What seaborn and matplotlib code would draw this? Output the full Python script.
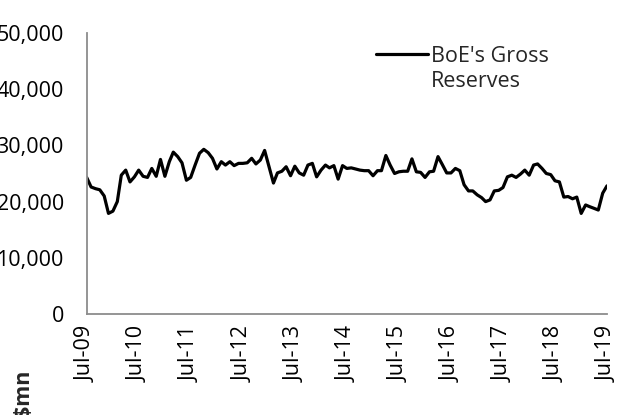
import numpy as np
import pandas as pd
import matplotlib
matplotlib.use("Agg")
import matplotlib.pyplot as plt
import matplotlib.dates as mdates
from matplotlib.lines import Line2D
from matplotlib.ticker import FuncFormatter
import seaborn as sns

# 月度数据: Jul-09 .. Jul-19 (US$ mn)
start_month = "2009-07-01"
reserves = [
    24300, 22600, 22300, 22100, 21000, 17900, 18300, 20000, 24700, 25600,
    23500, 24400, 25600, 24500, 24300, 25900, 24500, 27500, 24500, 27100,
    28800, 28000, 26900, 23800, 24300, 26500, 28600, 29300, 28700, 27700,
    25800, 27100, 26500, 27100, 26400, 26800, 26800, 26900, 27700, 26700,
    27400, 29100, 26200, 23300, 25100, 25400, 26200, 24600, 26300, 25100,
    24700, 26500, 26800, 24400, 25600, 26500, 26000, 26400, 24000, 26400,
    25900, 26000, 25800, 25600, 25500, 25500, 24600, 25500, 25500, 28200,
    26500, 25000, 25300, 25400, 25400, 27600, 25300, 25200, 24300, 25300,
    25400, 28000, 26600, 25100, 25100, 25900, 25500, 23000, 21900, 21900,
    21200, 20700, 20000, 20300, 21900, 22000, 22500, 24400, 24700, 24300,
    24900, 25600, 24700, 26500, 26700, 25900, 25000, 24800, 23700, 23500,
    20800, 20900, 20500, 20800, 17900, 19400, 19100, 18800, 18500, 21500,
    22800,
]
legend_lines = ["BoE's Gross", "Reserves"]
y_ticks = [0, 10000, 20000, 30000, 40000, 50000]

dates = pd.date_range(start_month, periods=len(reserves), freq="MS")
df = pd.DataFrame({"date": dates, "value": reserves})

sns.set_style("white")
plt.rcParams["font.family"] = ["Open Sans", "DejaVu Sans"]
FS = 15.5

fig = plt.figure(figsize=(6.2, 4.15), dpi=100)
ax = fig.add_axes([0.1398, 0.2434, 0.979 - 0.1398, 0.6771])

sns.lineplot(data=df, x="date", y="value", color="black", linewidth=2.3, ax=ax)

ax.set_xlim(dates[0], dates[-1])
ax.set_ylim(0, 50000)
ax.set_yticks(y_ticks)
ax.yaxis.set_major_formatter(FuncFormatter(lambda v, p: f"{int(v):,}"))
ax.xaxis.set_major_locator(mdates.MonthLocator(bymonth=7))
ax.xaxis.set_major_formatter(mdates.DateFormatter("%b-%y"))
plt.setp(ax.get_xticklabels(), rotation=90)

ax.set_xlabel("")
ax.set_ylabel("")
for s in ["top", "right"]:
    ax.spines[s].set_visible(False)
for s in ["left", "bottom"]:
    ax.spines[s].set_color("#8c8c8c")
    ax.spines[s].set_linewidth(1.3)
ax.tick_params(axis="both", direction="out", length=5.5, width=1.3, color="#8c8c8c",
               labelsize=FS, labelcolor="black")
ax.tick_params(axis="y", pad=11)
ax.tick_params(axis="x", pad=3)

# 图例：线段对齐第一行文字
handles = [Line2D([], [], color="black", linewidth=2.3),
           Line2D([], [], color="none")]
ax.legend(handles, legend_lines, loc="upper left", bbox_to_anchor=(0.54, 0.985),
          frameon=False, fontsize=FS, handlelength=2.4, handletextpad=0.15,
          labelspacing=0.2, borderaxespad=0)

fig.text(23 / 620, 1 - 393 / 415, "$mn", rotation=90, ha="center", va="center",
         fontsize=FS, fontweight="bold")

fig.savefig("out.png", dpi=100)
